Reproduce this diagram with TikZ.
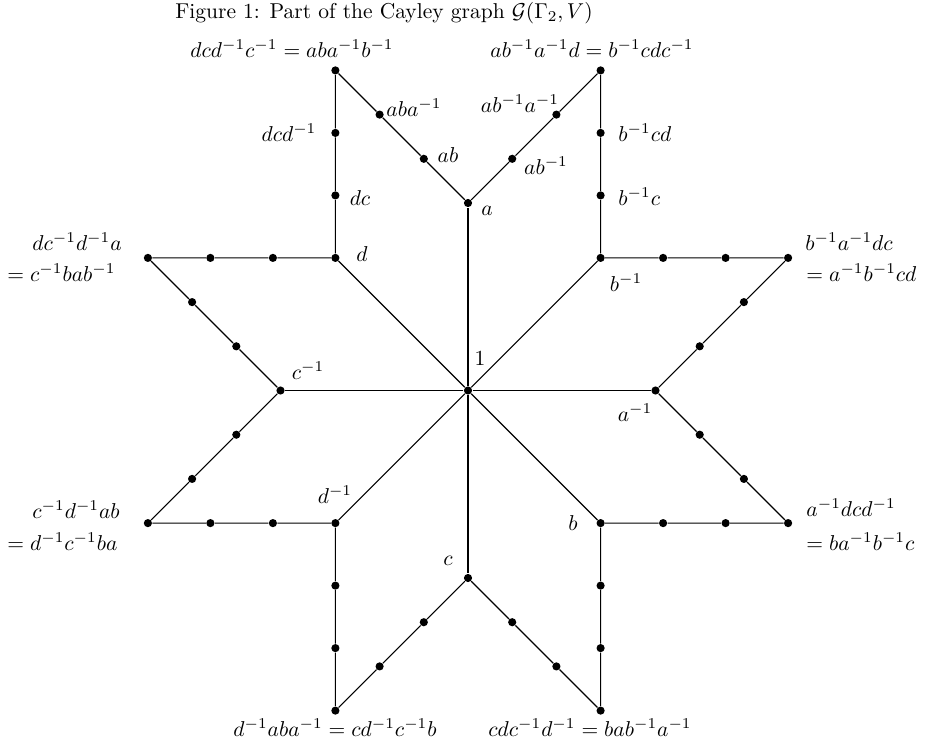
\documentclass[tikz,border=0pt]{standalone}
\usetikzlibrary{calc}
\begin{document}
\begin{tikzpicture}[x=0.465pt,y=-0.465pt,
  dot/.style={circle,fill=black,inner sep=0pt,minimum size=3.8pt},
  lbl/.style={inner sep=0pt},
  edge/.style={line width=0.5pt}]
\useasboundingbox (0,0) rectangle (930,742);
% main vertices
\node[dot] (one) at (468,390.5) {};
\node[dot] (a)  at (468,203) {};
\node[dot] (bi) at (600.6,257.9) {};
\node[dot] (ai) at (655.5,390.5) {};
\node[dot] (b)  at (600.6,523.1) {};
\node[dot] (c)  at (468,578) {};
\node[dot] (di) at (335.4,523.1) {};
\node[dot] (ci) at (280.5,390.5) {};
\node[dot] (d)  at (335.4,257.9) {};
% corners
\node[dot] (TL) at (335.4,70.4) {};
\node[dot] (TR) at (600.6,70.4) {};
\node[dot] (LT) at (147.9,257.9) {};
\node[dot] (LB) at (147.9,523.1) {};
\node[dot] (BL) at (335.4,710.6) {};
\node[dot] (BR) at (600.6,710.6) {};
\node[dot] (RB) at (788.1,523.1) {};
\node[dot] (RT) at (788.1,257.9) {};
% spokes
\foreach \v in {a,bi,ai,b,c,di,ci,d} \draw[edge] (one) -- (\v);
% paths with intermediate dots
\foreach \s/\e/\n in {a/TL/pa, a/TR/pb, d/TL/pc, bi/TR/pd, d/LT/pe, ci/LT/pf, ci/LB/pg, di/LB/ph, di/BL/pi, c/BL/pj, c/BR/pk, b/BR/pl, b/RB/pm, ai/RB/pn, ai/RT/po, bi/RT/pp} {
  \node[dot] (\n x) at ($(\s)!1/3!(\e)$) {};
  \node[dot] (\n y) at ($(\s)!2/3!(\e)$) {};
  \draw[edge] (\s) -- (\n x) -- (\n y) -- (\e);
}
% title
\node[lbl] (title) at (384,13) {Figure 1: Part of the Cayley graph $\mathcal{G}(\Gamma_2,V)$};
% corner labels
\node[lbl] (lTL) at (292,49) {$dcd^{-1}c^{-1}=aba^{-1}b^{-1}$};
\node[lbl] (lTR) at (592,49) {$ab^{-1}a^{-1}d=b^{-1}cdc^{-1}$};
\node[lbl] (lBL) at (335,728) {$d^{-1}aba^{-1}=cd^{-1}c^{-1}b$};
\node[lbl] (lBR) at (590,728) {$cdc^{-1}d^{-1}=bab^{-1}a^{-1}$};
\node[lbl,anchor=west] (lLTa) at (32,242) {$dc^{-1}d^{-1}a$};
\node[lbl,anchor=west] (lLTb) at (7,273) {$=c^{-1}bab^{-1}$};
\node[lbl,anchor=west] (lLBa) at (32,510) {$c^{-1}d^{-1}ab$};
\node[lbl,anchor=west] (lLBb) at (7,542) {$=d^{-1}c^{-1}ba$};
\node[lbl,anchor=west] (lRTa) at (805,242) {$b^{-1}a^{-1}dc$};
\node[lbl,anchor=west] (lRTb) at (806,273) {$=a^{-1}b^{-1}cd$};
\node[lbl,anchor=west] (lRBa) at (806,508) {$a^{-1}dcd^{-1}$};
\node[lbl,anchor=west] (lRBb) at (806,542) {$=ba^{-1}b^{-1}c$};
% vertex labels
\node[lbl] (l1) at (480,359) {$1$};
\node[lbl] (la) at (487,211) {$a$};
\node[lbl] (lab) at (448,155) {$ab$};
\node[lbl] (laba) at (414,108) {$aba^{-1}$};
\node[lbl] (labia) at (520,104) {$ab^{-1}a^{-1}$};
\node[lbl] (labi) at (546,166) {$ab^{-1}$};
\node[lbl] (ldcd) at (289,133) {$dcd^{-1}$};
\node[lbl] (ldc) at (360,198) {$dc$};
\node[lbl] (ld) at (362,254) {$d$};
\node[lbl,anchor=west] (lbcd) at (618,133) {$b^{-1}cd$};
\node[lbl,anchor=west] (lbc) at (618,197) {$b^{-1}c$};
\node[lbl] (lbi) at (626,283) {$b^{-1}$};
\node[lbl] (lai) at (635,413) {$a^{-1}$};
\node[lbl] (lb) at (573,523) {$b$};
\node[lbl] (lci) at (308,371) {$c^{-1}$};
\node[lbl] (ldi) at (335,495) {$d^{-1}$};
\node[lbl] (lc) at (448,561) {$c$};
\end{tikzpicture}
\end{document}
